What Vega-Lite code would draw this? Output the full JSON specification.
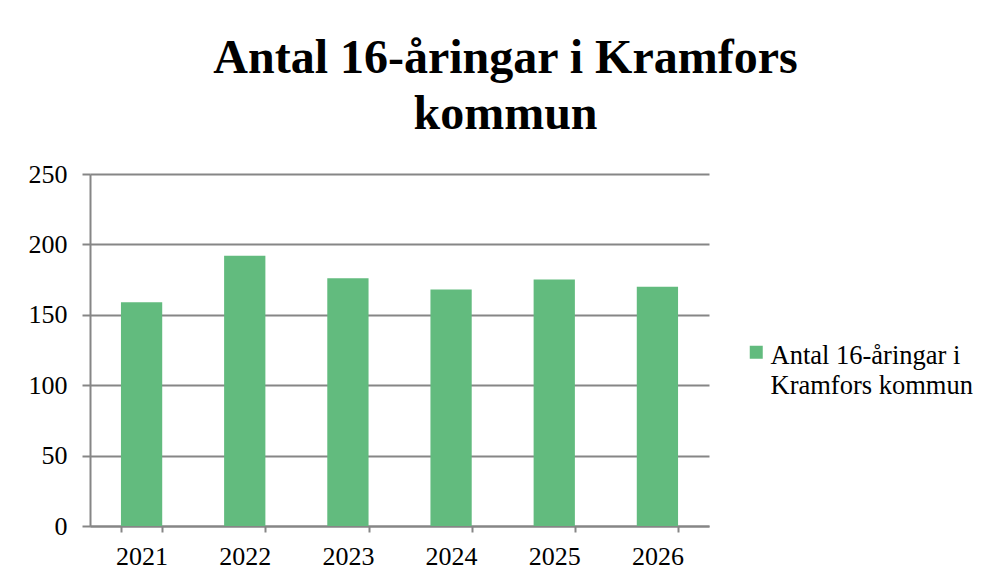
{
  "$schema": "https://vega.github.io/schema/vega-lite/v6.json",
  "width": 619,
  "height": 352,
  "autosize": {"type": "none"},
  "padding": {"left": 90, "top": 174, "right": 277, "bottom": 55},
  "background": "white",
  "title": {
    "text": ["Antal 16-åringar i Kramfors", "kommun"],
    "font": "Liberation Serif",
    "fontSize": 48,
    "fontWeight": "bold",
    "color": "black",
    "lineHeight": 56,
    "anchor": "middle",
    "frame": "group",
    "dx": 106,
    "offset": 22
  },
  "data": {
    "values": [
      {"year": "2021", "series": "Antal 16-åringar i Kramfors kommun", "value": 159},
      {"year": "2022", "series": "Antal 16-åringar i Kramfors kommun", "value": 192},
      {"year": "2023", "series": "Antal 16-åringar i Kramfors kommun", "value": 176},
      {"year": "2024", "series": "Antal 16-åringar i Kramfors kommun", "value": 168},
      {"year": "2025", "series": "Antal 16-åringar i Kramfors kommun", "value": 175},
      {"year": "2026", "series": "Antal 16-åringar i Kramfors kommun", "value": 170}
    ]
  },
  "mark": {"type": "bar"},
  "encoding": {
    "x": {
      "field": "year",
      "type": "nominal",
      "scale": {"paddingInner": 0.6, "paddingOuter": 0.3},
      "axis": {
        "title": null,
        "labelAngle": 0,
        "labelFont": "Liberation Serif",
        "labelFontSize": 26,
        "labelColor": "black",
        "labelPadding": 11,
        "tickBand": "extent",
        "tickSize": 6,
        "tickColor": "#868686",
        "tickWidth": 2,
        "domainColor": "#868686",
        "domainWidth": 2,
        "grid": false
      }
    },
    "y": {
      "field": "value",
      "type": "quantitative",
      "scale": {"domain": [0, 250]},
      "axis": {
        "title": null,
        "values": [0, 50, 100, 150, 200, 250],
        "labelFont": "Liberation Serif",
        "labelFontSize": 26,
        "labelColor": "black",
        "labelPadding": 15,
        "tickSize": 8,
        "tickColor": "#868686",
        "tickWidth": 2,
        "domainColor": "#868686",
        "domainWidth": 2,
        "gridColor": "#868686",
        "gridWidth": 2
      }
    },
    "color": {
      "field": "series",
      "type": "nominal",
      "scale": {"range": ["#62BB7E"]},
      "legend": {
        "title": null,
        "orient": "none",
        "legendX": 653,
        "legendY": 165,
        "padding": 0,
        "symbolType": "square",
        "symbolSize": 169,
        "symbolStrokeWidth": 0,
        "symbolOpacity": 1,
        "labelFont": "Liberation Serif",
        "labelFontSize": 26.5,
        "labelColor": "black",
        "labelLimit": 400,
        "labelOffset": 1,
        "labelBaseline": "top",
        "labelExpr": "['Antal 16-åringar i', 'Kramfors kommun']",
        "encode": {"labels": {"update": {"lineHeight": {"value": 30}, "dy": {"value": -9}}}}
      }
    }
  },
  "config": {
    "view": {"stroke": null}
  }
}
